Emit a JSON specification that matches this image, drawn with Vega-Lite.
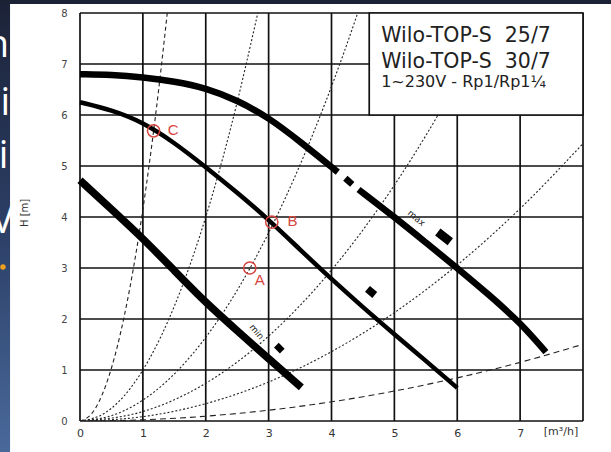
{
  "$schema": "https://vega.github.io/schema/vega-lite/v6.json",
  "width": 503,
  "height": 408,
  "autosize": {"type": "none"},
  "padding": {"left": 80, "top": 13, "right": 28, "bottom": 31},
  "background": "#1b2236",
  "config": {"view": {"stroke": null}},
  "datasets": {
    "pump": [
      {"curve": "max", "seg": "a", "q": 0, "h": 6.8},
      {"curve": "max", "seg": "a", "q": 0.5, "h": 6.79},
      {"curve": "max", "seg": "a", "q": 1, "h": 6.74},
      {"curve": "max", "seg": "a", "q": 1.5, "h": 6.66},
      {"curve": "max", "seg": "a", "q": 2, "h": 6.53},
      {"curve": "max", "seg": "a", "q": 2.5, "h": 6.29},
      {"curve": "max", "seg": "a", "q": 3, "h": 5.95},
      {"curve": "max", "seg": "a", "q": 3.5, "h": 5.48},
      {"curve": "max", "seg": "a", "q": 4.1, "h": 4.88},
      {"curve": "max", "seg": "b", "q": 4.22, "h": 4.76},
      {"curve": "max", "seg": "b", "q": 4.33, "h": 4.64},
      {"curve": "max", "seg": "c", "q": 4.43, "h": 4.54},
      {"curve": "max", "seg": "c", "q": 5, "h": 4.0},
      {"curve": "max", "seg": "c", "q": 5.5, "h": 3.5},
      {"curve": "max", "seg": "c", "q": 6, "h": 3.0},
      {"curve": "max", "seg": "c", "q": 6.5, "h": 2.48},
      {"curve": "max", "seg": "c", "q": 7, "h": 1.93},
      {"curve": "max", "seg": "c", "q": 7.41, "h": 1.35},
      {"curve": "mid", "seg": "a", "q": 0, "h": 6.25},
      {"curve": "mid", "seg": "a", "q": 0.5, "h": 6.1},
      {"curve": "mid", "seg": "a", "q": 1, "h": 5.86},
      {"curve": "mid", "seg": "a", "q": 1.5, "h": 5.46},
      {"curve": "mid", "seg": "a", "q": 2, "h": 4.98},
      {"curve": "mid", "seg": "a", "q": 2.5, "h": 4.48},
      {"curve": "mid", "seg": "a", "q": 3, "h": 3.95},
      {"curve": "mid", "seg": "a", "q": 3.5, "h": 3.36},
      {"curve": "mid", "seg": "a", "q": 4, "h": 2.78},
      {"curve": "mid", "seg": "a", "q": 4.5, "h": 2.23},
      {"curve": "mid", "seg": "a", "q": 5, "h": 1.7},
      {"curve": "mid", "seg": "a", "q": 5.5, "h": 1.18},
      {"curve": "mid", "seg": "a", "q": 6, "h": 0.65},
      {"curve": "min", "seg": "a", "q": 0, "h": 4.72},
      {"curve": "min", "seg": "a", "q": 0.5, "h": 4.15},
      {"curve": "min", "seg": "a", "q": 1, "h": 3.58},
      {"curve": "min", "seg": "a", "q": 1.5, "h": 2.95},
      {"curve": "min", "seg": "a", "q": 2, "h": 2.32},
      {"curve": "min", "seg": "a", "q": 2.5, "h": 1.77},
      {"curve": "min", "seg": "a", "q": 3, "h": 1.22},
      {"curve": "min", "seg": "a", "q": 3.52, "h": 0.66}
    ],
    "sys": [
      {"k": "k1", "style": "dash", "q": 0, "h": 0},
      {"k": "k1", "style": "dash", "q": 0.2, "h": 0.166},
      {"k": "k1", "style": "dash", "q": 0.4, "h": 0.664},
      {"k": "k1", "style": "dash", "q": 0.6, "h": 1.494},
      {"k": "k1", "style": "dash", "q": 0.8, "h": 2.656},
      {"k": "k1", "style": "dash", "q": 1.0, "h": 4.15},
      {"k": "k1", "style": "dash", "q": 1.2, "h": 5.976},
      {"k": "k1", "style": "dash", "q": 1.4, "h": 8.134},
      {"k": "k2", "style": "dot", "q": 0, "h": 0},
      {"k": "k2", "style": "dot", "q": 0.4, "h": 0.16},
      {"k": "k2", "style": "dot", "q": 0.8, "h": 0.64},
      {"k": "k2", "style": "dot", "q": 1.2, "h": 1.44},
      {"k": "k2", "style": "dot", "q": 1.6, "h": 2.56},
      {"k": "k2", "style": "dot", "q": 2.0, "h": 4.0},
      {"k": "k2", "style": "dot", "q": 2.4, "h": 5.76},
      {"k": "k2", "style": "dot", "q": 2.85, "h": 8.12},
      {"k": "k3", "style": "dot", "q": 0, "h": 0},
      {"k": "k3", "style": "dot", "q": 0.6, "h": 0.148},
      {"k": "k3", "style": "dot", "q": 1.2, "h": 0.59},
      {"k": "k3", "style": "dot", "q": 1.8, "h": 1.328},
      {"k": "k3", "style": "dot", "q": 2.4, "h": 2.362},
      {"k": "k3", "style": "dot", "q": 3.0, "h": 3.69},
      {"k": "k3", "style": "dot", "q": 3.6, "h": 5.314},
      {"k": "k3", "style": "dot", "q": 4.2, "h": 7.232},
      {"k": "k3", "style": "dot", "q": 4.45, "h": 8.119},
      {"k": "k4", "style": "dot", "q": 0, "h": 0},
      {"k": "k4", "style": "dot", "q": 1, "h": 0.185},
      {"k": "k4", "style": "dot", "q": 2, "h": 0.74},
      {"k": "k4", "style": "dot", "q": 3, "h": 1.665},
      {"k": "k4", "style": "dot", "q": 4, "h": 2.96},
      {"k": "k4", "style": "dot", "q": 5, "h": 4.625},
      {"k": "k4", "style": "dot", "q": 6, "h": 6.66},
      {"k": "k4", "style": "dot", "q": 6.6, "h": 8.059},
      {"k": "k5", "style": "dot", "q": 0, "h": 0},
      {"k": "k5", "style": "dot", "q": 1, "h": 0.085},
      {"k": "k5", "style": "dot", "q": 2, "h": 0.34},
      {"k": "k5", "style": "dot", "q": 3, "h": 0.765},
      {"k": "k5", "style": "dot", "q": 4, "h": 1.36},
      {"k": "k5", "style": "dot", "q": 5, "h": 2.125},
      {"k": "k5", "style": "dot", "q": 6, "h": 3.06},
      {"k": "k5", "style": "dot", "q": 7, "h": 4.165},
      {"k": "k5", "style": "dot", "q": 8, "h": 5.44},
      {"k": "k6", "style": "longdash", "q": 0, "h": 0},
      {"k": "k6", "style": "longdash", "q": 1, "h": 0.0235},
      {"k": "k6", "style": "longdash", "q": 2, "h": 0.094},
      {"k": "k6", "style": "longdash", "q": 3, "h": 0.2115},
      {"k": "k6", "style": "longdash", "q": 4, "h": 0.376},
      {"k": "k6", "style": "longdash", "q": 5, "h": 0.5875},
      {"k": "k6", "style": "longdash", "q": 6, "h": 0.846},
      {"k": "k6", "style": "longdash", "q": 7, "h": 1.15},
      {"k": "k6", "style": "longdash", "q": 8, "h": 1.504}
    ],
    "vgrid": [
      {"q": 0, "h": 0, "h2": 8}, {"q": 1, "h": 0, "h2": 8}, {"q": 2, "h": 0, "h2": 8},
      {"q": 3, "h": 0, "h2": 8}, {"q": 4, "h": 0, "h2": 8}, {"q": 5, "h": 0, "h2": 8},
      {"q": 6, "h": 0, "h2": 8}, {"q": 7, "h": 0, "h2": 8}, {"q": 8, "h": 0, "h2": 8}
    ],
    "hgrid": [
      {"h": 0, "q": 0, "q2": 8}, {"h": 1, "q": 0, "q2": 8}, {"h": 2, "q": 0, "q2": 8},
      {"h": 3, "q": 0, "q2": 8}, {"h": 4, "q": 0, "q2": 8}, {"h": 5, "q": 0, "q2": 8},
      {"h": 6, "q": 0, "q2": 8}, {"h": 7, "q": 0, "q2": 8}, {"h": 8, "q": 0, "q2": 8}
    ]
  },
  "encoding": {
    "x": {"field": "q", "type": "quantitative", "scale": {"domain": [0, 8], "nice": false, "zero": false},
      "axis": {"values": [0, 1, 2, 3, 4, 5, 6, 7], "title": null, "grid": false, "ticks": false, "domain": false,
        "labelPadding": 6, "labelFontSize": 11, "labelColor": "#333333", "labelFont": "DejaVu Sans",
        "labelFlush": false, "labelOverlap": false, "zindex": 1}},
    "y": {"field": "h", "type": "quantitative", "scale": {"domain": [0, 8], "nice": false, "zero": false},
      "axis": {"values": [0, 1, 2, 3, 4, 5, 6, 7, 8], "title": null, "grid": false, "ticks": false, "domain": false,
        "labelPadding": 13, "labelFontSize": 10, "labelColor": "#444444", "labelFont": "DejaVu Sans",
        "labelFlush": false, "labelOverlap": false, "zindex": 1}}
  },
  "layer": [
    {
      "data": {"values": [{"q": -1.113, "q2": 8.6, "h": 8.176, "h2": -0.7}]},
      "mark": {"type": "rect", "fill": "#ffffff", "clip": false},
      "encoding": {"x2": {"field": "q2"}, "y2": {"field": "h2"}}
    },
    {
      "data": {"values": [{"q": -1.4, "q2": -1.113, "h": 8.176, "h2": -0.7}]},
      "mark": {"type": "rect", "clip": false,
        "fill": {"gradient": "linear", "x1": 0, "y1": 0, "x2": 0, "y2": 1,
          "stops": [{"offset": 0, "color": "#1c2338"}, {"offset": 0.5, "color": "#2c3f66"}, {"offset": 1, "color": "#4a6a9c"}]}},
      "encoding": {"x2": {"field": "q2"}, "y2": {"field": "h2"}}
    },
    {
      "data": {"name": "vgrid"},
      "mark": {"type": "rule", "color": "#111111", "strokeWidth": 1.7},
      "encoding": {"y2": {"field": "h2"}}
    },
    {
      "data": {"name": "hgrid"},
      "mark": {"type": "rule", "color": "#111111", "strokeWidth": 1.7},
      "encoding": {"x2": {"field": "q2"}}
    },
    {
      "data": {"name": "sys"},
      "mark": {"type": "line", "clip": true, "interpolate": "monotone", "color": "#222222", "strokeWidth": 1.1},
      "encoding": {
        "detail": {"field": "k"},
        "strokeDash": {"field": "style", "type": "nominal", "legend": null,
          "scale": {"domain": ["dash", "dot", "longdash"], "range": [[4, 3], [2, 2], [6, 4]]}}
      }
    },
    {
      "data": {"values": [{"q": 4.6, "q2": 8, "h": 8, "h2": 6.0}]},
      "mark": {"type": "rect", "fill": "#ffffff", "stroke": "#111111", "strokeWidth": 1.7},
      "encoding": {"x2": {"field": "q2"}, "y2": {"field": "h2"}}
    },
    {
      "data": {"values": [{"q": 4.79, "h": 7.43, "t": "Wilo-TOP-S \u00a025/7"}, {"q": 4.79, "h": 6.92, "t": "Wilo-TOP-S \u00a030/7"}]},
      "mark": {"type": "text", "align": "left", "baseline": "alphabetic", "fontSize": 20.5, "font": "DejaVu Sans", "color": "#222222"},
      "encoding": {"text": {"field": "t"}}
    },
    {
      "data": {"values": [{"q": 4.79, "h": 6.55, "t": "1~230V - Rp1/Rp1¼"}]},
      "mark": {"type": "text", "align": "left", "baseline": "alphabetic", "fontSize": 16, "font": "DejaVu Sans", "color": "#222222"},
      "encoding": {"text": {"field": "t"}}
    },
    {
      "data": {"name": "pump"},
      "transform": [{"filter": "datum.curve === 'max'"}],
      "mark": {"type": "line", "color": "#000000", "strokeWidth": 6.5, "strokeCap": "butt", "interpolate": "basis"},
      "encoding": {"detail": {"field": "seg"}}
    },
    {
      "data": {"name": "pump"},
      "transform": [{"filter": "datum.curve === 'mid'"}],
      "mark": {"type": "line", "color": "#000000", "strokeWidth": 4.5, "strokeCap": "butt", "interpolate": "basis"},
      "encoding": {"detail": {"field": "seg"}}
    },
    {
      "data": {"name": "pump"},
      "transform": [{"filter": "datum.curve === 'min'"}],
      "mark": {"type": "line", "color": "#000000", "strokeWidth": 7.5, "strokeCap": "butt", "interpolate": "basis"},
      "encoding": {"detail": {"field": "seg"}}
    },
    {
      "data": {"values": [{"q": 5.79, "h": 3.61}]},
      "mark": {"type": "point", "shape": "M-1,-0.55L1,-0.55L1,0.55L-1,0.55Z", "filled": true, "color": "#000000", "opacity": 1, "size": 250, "angle": 38}
    },
    {
      "data": {"values": [{"q": 4.63, "h": 2.53}]},
      "mark": {"type": "point", "shape": "M-1,-0.8L1,-0.8L1,0.8L-1,0.8Z", "filled": true, "color": "#000000", "opacity": 1, "size": 90, "angle": 40}
    },
    {
      "data": {"values": [{"q": 3.17, "h": 1.43}]},
      "mark": {"type": "point", "shape": "M-1,-0.8L1,-0.8L1,0.8L-1,0.8Z", "filled": true, "color": "#000000", "opacity": 1, "size": 70, "angle": 45}
    },
    {
      "data": {"values": [{"q": 5.35, "h": 3.98, "t": "max"}]},
      "mark": {"type": "text", "angle": 40, "fontSize": 9, "font": "DejaVu Sans", "color": "#222222"},
      "encoding": {"text": {"field": "t"}}
    },
    {
      "data": {"values": [{"q": 2.81, "h": 1.75, "t": "min"}]},
      "mark": {"type": "text", "angle": 50, "fontSize": 9, "font": "DejaVu Sans", "color": "#222222"},
      "encoding": {"text": {"field": "t"}}
    },
    {
      "data": {"values": [{"q": 2.70, "h": 3.0, "p": "A"}, {"q": 3.05, "h": 3.9, "p": "B"}, {"q": 1.17, "h": 5.69, "p": "C"}]},
      "mark": {"type": "point", "shape": "circle", "filled": false, "color": "#d8453f", "size": 150, "strokeWidth": 1.5, "opacity": 1}
    },
    {
      "data": {"values": [{"q": 2.86, "h": 2.76, "p": "A"}, {"q": 3.38, "h": 3.92, "p": "B"}, {"q": 1.48, "h": 5.71, "p": "C"}]},
      "mark": {"type": "text", "fontSize": 15, "font": "Liberation Sans", "color": "#d8453f"},
      "encoding": {"text": {"field": "p"}}
    },
    {
      "data": {"values": [{"q": -0.87, "h": 4.08, "t": "H [m]"}]},
      "mark": {"type": "text", "angle": 270, "fontSize": 10, "font": "DejaVu Sans", "color": "#333333", "clip": false},
      "encoding": {"text": {"field": "t"}}
    },
    {
      "data": {"values": [{"q": 7.65, "h": -0.22, "t": "[m³/h]"}]},
      "mark": {"type": "text", "fontSize": 11, "font": "DejaVu Sans", "color": "#333333", "clip": false},
      "encoding": {"text": {"field": "t"}}
    },
    {
      "data": {"values": [
        {"q": -1.13, "h": 7.14, "t": "n"},
        {"q": -1.11, "h": 6.0, "t": "ei"},
        {"q": -1.14, "h": 4.96, "t": "ri"},
        {"q": -1.05, "h": 3.69, "t": "V"}
      ]},
      "mark": {"type": "text", "align": "right", "baseline": "alphabetic", "fontSize": 38, "font": "Open Sans", "color": "#ffffff", "clip": false},
      "encoding": {"text": {"field": "t"}}
    },
    {
      "data": {"values": [{"q": -1.225, "h": 3.02}]},
      "mark": {"type": "point", "shape": "circle", "filled": true, "color": "#f0a020", "opacity": 1, "size": 30, "clip": false}
    }
  ]
}
